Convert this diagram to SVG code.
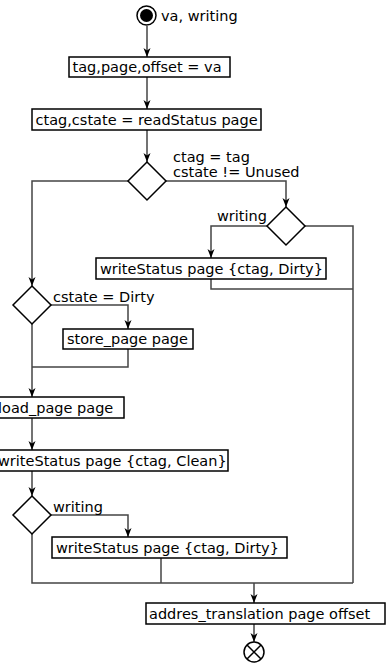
<svg xmlns="http://www.w3.org/2000/svg" width="392" height="667" viewBox="0 0 392 667">
<defs>
<marker id="arr" markerWidth="12" markerHeight="10" viewBox="-10 -5 11 10" refX="0" refY="0" orient="auto" markerUnits="userSpaceOnUse">
<path d="M0,0 L-9,-3.5 L-6.5,0 L-9,3.5 Z" fill="#000"/>
</marker>
<style>
text{font-family:"DejaVu Sans","Liberation Sans",sans-serif;font-size:14.5px;fill:#000}
.box rect{fill:#fff;stroke:#000;stroke-width:1.5}
.dia polygon{fill:#fff;stroke:#000;stroke-width:1.5}
#connectors path{fill:none;stroke:#444;stroke-width:1.5}
.arr{marker-end:url(#arr)}
</style>
</defs>
<rect width="392" height="667" fill="#fff"/>
<g id="connectors">
<path class="arr" d="M147,26 V57"/>
<path class="arr" d="M147,77 V109"/>
<path class="arr" d="M147,130 V162"/>
<path class="arr" d="M166,181 H286 V207"/>
<path class="arr" d="M128,181 H32 V286"/>
<path class="arr" d="M267,226 H211 V258"/>
<path d="M305,226 H353 V583"/>
<path d="M211,279 V289 H353"/>
<path class="arr" d="M51,305 H128 V329"/>
<path d="M128,349 V367 H32"/>
<path class="arr" d="M32,324 V397"/>
<path class="arr" d="M32,418 V450"/>
<path class="arr" d="M32,471 V496"/>
<path class="arr" d="M51,515 H128 V537"/>
<path d="M32,534 V583 H353"/>
<path d="M161,558 V583"/>
<path class="arr" d="M254,583 V603"/>
<path class="arr" d="M254,624 V642"/>
</g>
<g id="start">
<circle cx="146.5" cy="15.5" r="9.5" fill="#fff" stroke="#000" stroke-width="1.5"/>
<circle cx="146.5" cy="15.5" r="6.5" fill="#000"/>
<text x="161" y="21">va, writing</text>
</g>
<g id="n1" class="box"><rect x="69" y="57" width="161" height="20"/><text x="72.5" y="72">tag,page,offset = va</text></g>
<g id="n2" class="box"><rect x="32" y="109" width="229" height="21"/><text x="35.5" y="125">ctag,cstate = readStatus page</text></g>
<g id="d1" class="dia"><polygon points="147,162 166,181 147,200 128,181"/>
<text x="173" y="162">ctag = tag</text><text x="173" y="177">cstate != Unused</text></g>
<g id="d2" class="dia"><polygon points="286,207 305,226 286,245 267,226"/><text x="217" y="221">writing</text></g>
<g id="n3" class="box"><rect x="96" y="258" width="230" height="21"/><text x="100" y="274">writeStatus page {ctag, Dirty}</text></g>
<g id="d3" class="dia"><polygon points="32,286 51,305 32,324 13,305"/><text x="53" y="302">cstate = Dirty</text></g>
<g id="n4" class="box"><rect x="63" y="329" width="130" height="20"/><text x="67" y="344">store_page page</text></g>
<g id="n5" class="box"><rect x="-8" y="397" width="132" height="21"/><text x="-2" y="413">load_page page</text></g>
<g id="n6" class="box"><rect x="-8" y="450" width="236" height="21"/><text x="-2" y="466">writeStatus page {ctag, Clean}</text></g>
<g id="d4" class="dia"><polygon points="32,496 51,515 32,534 13,515"/><text x="53" y="512">writing</text></g>
<g id="n7" class="box"><rect x="52" y="537" width="235" height="21"/><text x="56" y="553">writeStatus page {ctag, Dirty}</text></g>
<g id="n8" class="box"><rect x="146" y="603" width="239" height="21"/><text x="149" y="619">addres_translation page offset</text></g>
<g id="end">
<circle cx="254" cy="652" r="10" fill="#fff" stroke="#000" stroke-width="1.5"/>
<path d="M247,645 L261,659 M261,645 L247,659" stroke="#000" stroke-width="1.5"/>
</g>
</svg>
